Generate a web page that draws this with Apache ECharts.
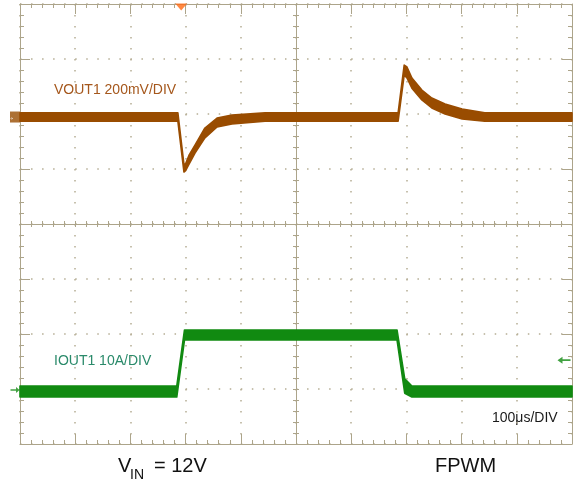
<!DOCTYPE html>
<html>
<head>
<meta charset="utf-8">
<script src="https://cdn.jsdelivr.net/npm/echarts@6/dist/echarts.min.js"></script>
<style>html,body{margin:0;padding:0;background:#fff}#c{width:573px;height:484px}</style>
</head>
<body>
<div id="c"></div>
<script>
// ---- data (time in µs from left edge of screen, 100 µs/div) ----
const timeV = [0, 286, 297, 300, 306, 317, 335, 357, 384, 444, 685, 696, 701, 710, 728, 746, 770, 801, 842, 1000];
// VOUT1 deviation (mV), upper and lower edge of the noisy trace
const vHigh = [15, 15, -172, -170, -140, -102, -40, -4, 7, 15, 15, 189, 182, 142, 98, 69, 47, 29, 15, 15];
const vLow  = [-15, -15, -200, -195, -172, -131, -76, -36, -25, -15, -15, 153, 142, 105, 62, 33, 11, -7, -15, -15];

const timeI = [0, 284, 298, 683, 697, 710, 1000];
// IOUT1 (A), upper and lower edge of the noisy trace
const iHigh = [0.9, 0.9, 11.1, 11.1, 2.2, 0.9, 0.9];
const iLow  = [-1.1, -1.1, 9.3, 9.3, -0.4, -1.1, -1.1];

const triggerTime = 292;      // µs
const triggerLevel = 5.6;     // A
const vScale = 200;           // mV/div
const iScale = 10;            // A/div

// ---- style / placement ----
const vZeroDiv = 5.945;       // divisions from bottom of screen
const iZeroDiv = 0.964;
const brown = '#994c00';
const green = '#118a11';
const gridColor = '#aca48a';
const dotColor = '#b5ad94';

function band(tArr, hi, lo, color) {
  return function (params, api) {
    if (params.dataIndex !== 0) return null;
    const top = tArr.map((t, i) => api.coord([t, hi[i]]));
    const bot = tArr.map((t, i) => api.coord([t, lo[i]])).reverse();
    return {
      type: 'polygon',
      shape: { points: top.concat(bot) },
      style: { fill: color, stroke: color, lineWidth: 1.6, lineJoin: 'round' }
    };
  };
}

const lineC = { color: gridColor, width: 1 };
function borderX(pos, split) {
  return {
    type: 'value', min: 0, max: 1000, interval: 100, position: pos,
    axisLine: { show: true, onZero: false, lineStyle: lineC },
    axisTick: { show: true, inside: true, length: 10, lineStyle: lineC },
    minorTick: { show: true, splitNumber: 5, length: 4, lineStyle: lineC },
    axisLabel: { show: false },
    splitLine: { show: split, lineStyle: { color: dotColor, width: 1.5, type: [1.5, 9.5] } }
  };
}
function borderY(pos, split) {
  return {
    type: 'value', min: -4, max: 4, interval: 1, position: pos,
    axisLine: { show: true, onZero: false, lineStyle: lineC },
    axisTick: { show: true, inside: true, length: 10, lineStyle: lineC },
    minorTick: { show: true, splitNumber: 5, length: 4, lineStyle: lineC },
    axisLabel: { show: false },
    splitLine: { show: split, lineStyle: { color: dotColor, width: 1.5, type: [1.5, 9.54] } }
  };
}
function centerX(inside) {
  return {
    type: 'value', min: -5, max: 5, interval: 1, position: 'bottom',
    axisLine: { show: true, onZero: true, onZeroAxisIndex: 0, lineStyle: lineC },
    axisTick: { show: true, inside: inside, length: 3, lineStyle: lineC },
    minorTick: { show: true, splitNumber: 5, length: 3, lineStyle: lineC },
    axisLabel: { show: false }, splitLine: { show: false }
  };
}
function centerY(inside) {
  return {
    type: 'value', min: -4, max: 4, interval: 1, position: 'left',
    axisLine: { show: true, onZero: true, onZeroAxisIndex: 2, lineStyle: lineC },
    axisTick: { show: true, inside: inside, length: 3, lineStyle: lineC },
    minorTick: { show: true, splitNumber: 5, length: 3, lineStyle: lineC },
    axisLabel: { show: false }, splitLine: { show: false }
  };
}

const chart = echarts.init(document.getElementById('c'), null, { renderer: 'canvas' });
chart.setOption({
  animation: false,
  backgroundColor: '#ffffff',
  grid: { left: 20, top: 4, width: 552, height: 440, containLabel: false },
  xAxis: [borderX('bottom', true), borderX('top', false), centerX(true), centerX(false)],
  yAxis: [
    borderY('left', true), borderY('right', false), centerY(true), centerY(false),
    { type: 'value', show: false, min: -vZeroDiv * vScale, max: (8 - vZeroDiv) * vScale, axisLine: { onZero: false }, splitLine: { show: false } },
    { type: 'value', show: false, min: -iZeroDiv * iScale, max: (8 - iZeroDiv) * iScale, axisLine: { onZero: false }, splitLine: { show: false } }
  ],
  series: [
    {
      type: 'custom', xAxisIndex: 0, yAxisIndex: 4, clip: false,
      renderItem: band(timeV, vHigh, vLow, brown),
      encode: { x: 0, y: [1, 2] },
      data: timeV.map((t, i) => [t, vLow[i], vHigh[i]])
    },
    {
      type: 'custom', xAxisIndex: 0, yAxisIndex: 5, clip: false,
      renderItem: band(timeI, iHigh, iLow, green),
      encode: { x: 0, y: [1, 2] },
      data: timeI.map((t, i) => [t, iLow[i], iHigh[i]])
    },
    { // trigger position marker
      type: 'scatter', xAxisIndex: 0, yAxisIndex: 0, clip: false, silent: true,
      symbol: 'triangle', symbolRotate: 180, symbolSize: [12, 7], symbolOffset: [0, 3],
      itemStyle: { color: '#ff6a13' },
      data: [[triggerTime, 4]]
    },
    { // CH ground marker (VOUT1)
      type: 'scatter', xAxisIndex: 0, yAxisIndex: 4, clip: false, silent: true,
      symbol: 'rect', symbolSize: [10, 11], symbolOffset: [-5, 0],
      itemStyle: { color: brown },
      label: { show: true, formatter: '\u2192', color: '#fff', fontSize: 10, fontWeight: 'bold', offset: [-5, 0], position: 'inside' },
      data: [[0, 0]]
    },
    { // CH ground marker (IOUT1)
      type: 'scatter', xAxisIndex: 0, yAxisIndex: 5, clip: false, silent: true,
      symbol: 'path://M0,4 L8,4 L8,1 L13,5 L8,9 L8,6 L0,6 Z', symbolSize: [9, 6], symbolOffset: [-5, -1],
      itemStyle: { color: green },
      data: [[0, 0]]
    },
    { // trigger level marker
      type: 'scatter', xAxisIndex: 0, yAxisIndex: 5, clip: false, silent: true,
      symbol: 'path://M13,4 L5,4 L5,1 L0,5 L5,9 L5,6 L13,6 Z', symbolSize: [13, 7], symbolOffset: [-8, 0],
      itemStyle: { color: green },
      data: [[1000, triggerLevel]]
    }
  ],
  graphic: [
    { type: 'text', x: 54, y: 90, style: { text: 'VOUT1 200mV/DIV', fill: '#a5571c', font: '14px "Liberation Sans", Arial, sans-serif', verticalAlign: 'middle' } },
    { type: 'text', x: 54, y: 361, style: { text: 'IOUT1 10A/DIV', fill: '#2a8a6a', font: '14px "Liberation Sans", Arial, sans-serif', verticalAlign: 'middle' } },
    { type: 'text', x: 492, y: 418, style: { text: '100\u03bcs/DIV', fill: '#1a1a1a', font: '14px "Liberation Sans", Arial, sans-serif', verticalAlign: 'middle' } },
    { type: 'text', x: 118, y: 466, style: { text: 'V', fill: '#111', font: '20px "Liberation Sans", Arial, sans-serif', verticalAlign: 'middle' } },
    { type: 'text', x: 130, y: 475, style: { text: 'IN', fill: '#111', font: '14px "Liberation Sans", Arial, sans-serif', verticalAlign: 'middle' } },
    { type: 'text', x: 154, y: 466, style: { text: '= 12V', fill: '#111', font: '20px "Liberation Sans", Arial, sans-serif', verticalAlign: 'middle' } },
    { type: 'text', x: 435, y: 466, style: { text: 'FPWM', fill: '#111', font: '20px "Liberation Sans", Arial, sans-serif', verticalAlign: 'middle' } }
  ]
});
</script>
</body>
</html>
